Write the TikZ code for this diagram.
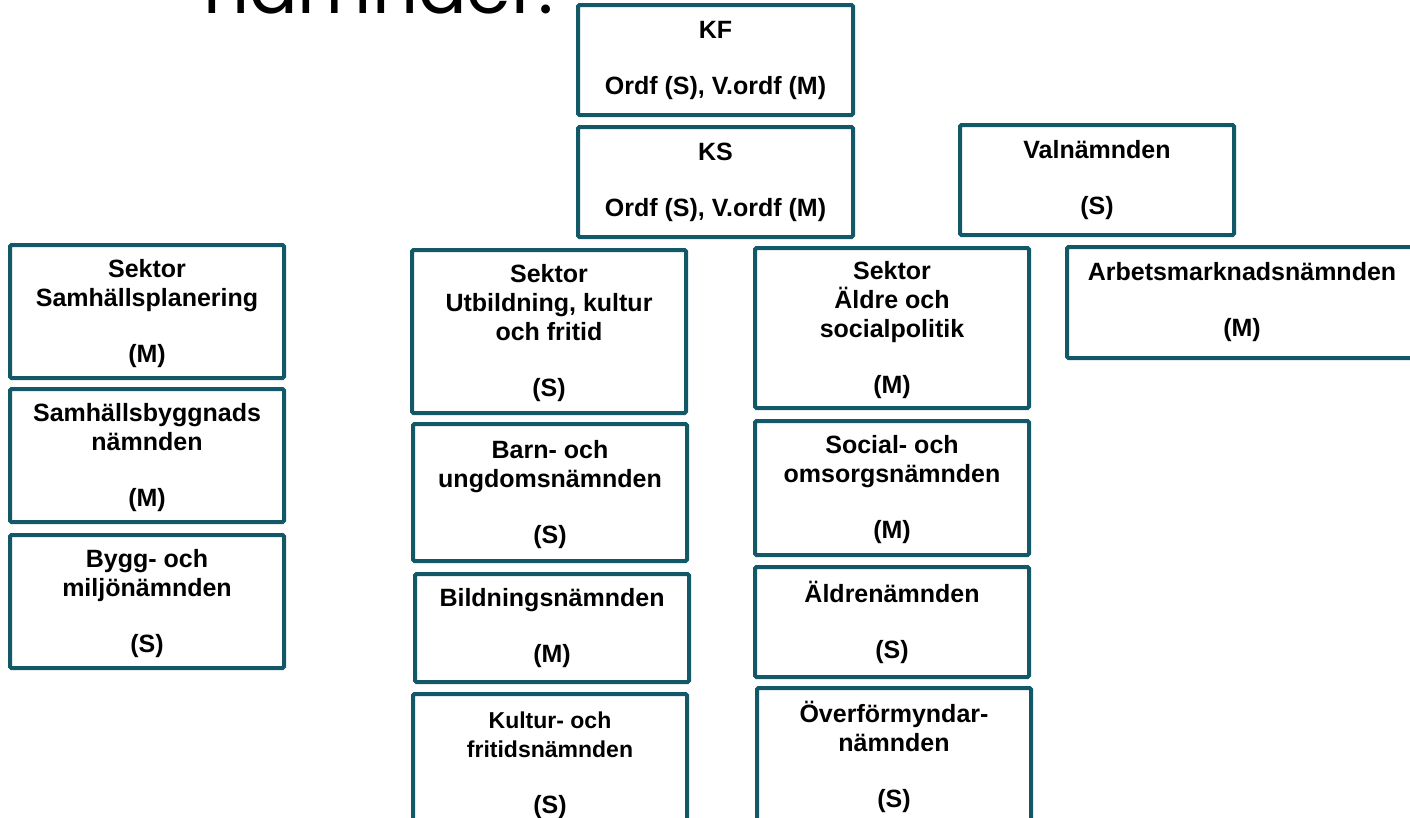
\documentclass[tikz,border=0pt]{standalone}
\usepackage{fontspec}
\setmainfont{Liberation Sans}
\newfontfamily\titlefont{Poppins}
\usetikzlibrary{positioning}

\definecolor{boxteal}{RGB}{18,88,102}

\tikzset{
  orgbox/.style={draw=boxteal, line width=4pt, rounded corners=1.5pt,
    align=center, inner sep=0pt, minimum width=274pt,
    font=\fontsize{25}{29}\selectfont\bfseries, text=black},
}
\newcommand{\tstrut}{\rule{0pt}{22pt}}

\begin{document}
\begin{tikzpicture}[x=1pt,y=-1pt]
\useasboundingbox (0,0) rectangle (1410,817);
\clip (0,0) rectangle (1410,817);
% title, only its lower part is on the page
\node[anchor=base west, inner sep=0pt, font=\titlefont\fontsize{72}{80}\selectfont] (title) at (203,13) {nämnder:};
% top
\node[orgbox, minimum width=275pt, minimum height=110pt] (kf) at (715.5,60) {KF\\[27pt]Ordf (S), V.ordf (M)};
\node[orgbox, minimum width=275pt, minimum height=110pt] (ks) at (715.5,182) {KS\\[27pt]Ordf (S), V.ordf (M)};
\node[orgbox, minimum height=110pt] (val) at (1097,180) {Valnämnden\\[27pt](S)};
\node[orgbox, minimum width=350pt, minimum height=111pt] (arb) at (1242,302.5) {Arbetsmarknadsnämnden\\[27pt](M)};
% sektor samhällsplanering
\node[orgbox, minimum height=133pt] (samh) at (147,311.5) {\tstrut Sektor\\Samhällsplanering\\[27pt](M)};
\node[orgbox, minimum height=133pt] (sbn) at (147,455.5) {\tstrut Samhällsbyggnads\\nämnden\\[27pt](M)};
\node[orgbox, minimum height=133pt] (bmn) at (147,601.5) {\tstrut Bygg- och\\miljönämnden\\[27pt](S)};
% sektor utbildning, kultur och fritid
\node[orgbox, minimum height=163pt] (ukf) at (549,331.5) {\tstrut Sektor\\Utbildning, kultur\\och fritid\\[27pt](S)};
\node[orgbox, minimum height=137pt] (bun) at (550,492.5) {\tstrut Barn- och\\ungdomsnämnden\\[27pt](S)};
\node[orgbox, minimum height=108pt] (bildn) at (552,628) {Bildningsnämnden\\[27pt](M)};
\node[orgbox, minimum height=137pt] (kfn) at (550,762.5) {\fontsize{23}{27}\selectfont\tstrut Kultur- och\\\fontsize{23}{27}\selectfont fritidsnämnden\\[27pt](S)};
% sektor äldre och socialpolitik
\node[orgbox, minimum height=160pt] (asp) at (892,328) {\tstrut Sektor\\Äldre och\\socialpolitik\\[27pt](M)};
\node[orgbox, minimum height=134pt] (son) at (892,488) {\tstrut Social- och\\omsorgsnämnden\\[27pt](M)};
\node[orgbox, minimum height=110pt] (aldre) at (892,622) {Äldrenämnden\\[27pt](S)};
\node[orgbox, minimum height=137pt] (ofn) at (894,756.5) {\tstrut Överförmyndar-\\nämnden\\[27pt](S)};
\end{tikzpicture}
\end{document}
